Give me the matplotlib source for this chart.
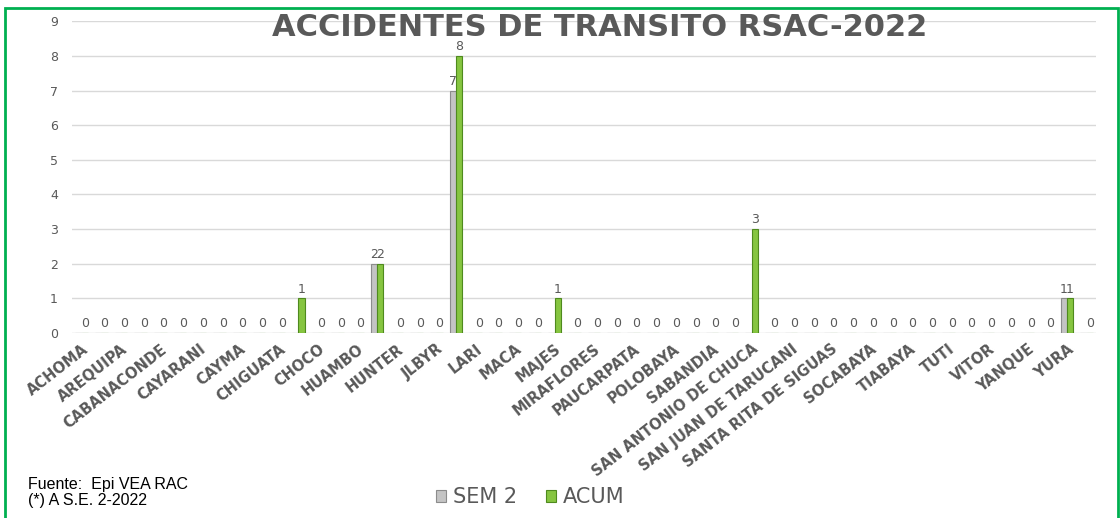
"""Accidentes de transito RSAC-2022 bar chart"""

import matplotlib.pyplot as plt
import numpy as np
from matplotlib.patches import Rectangle

# districts (Excel shows only every other label)
districts = [
    'ACHOMA', 'ALTO SELVA ALEGRE', 'AREQUIPA', 'AYO', 'CABANACONDE', 'CALLALLI',
    'CAYARANI', 'CAYLLOMA', 'CAYMA', 'CERRO COLORADO', 'CHIGUATA', 'CHIVAY',
    'CHOCO', 'COPORAQUE', 'HUAMBO', 'HUANCA', 'HUNTER', 'ICHUPAMPA',
    'JLBYR', 'LA JOYA', 'LARI', 'LLUTA', 'MACA', 'MADRIGAL',
    'MAJES', 'MARIANO MELGAR', 'MIRAFLORES', 'MOLLEBAYA', 'PAUCARPATA', 'POCSI',
    'POLOBAYA', 'QUEQUEÑA', 'SABANDIA', 'SACHACA', 'SAN ANTONIO DE CHUCA', 'SAN JUAN DE SIGUAS',
    'SAN JUAN DE TARUCANI', 'SANTA ISABEL DE SIGUAS', 'SANTA RITA DE SIGUAS', 'SIBAYO', 'SOCABAYA', 'TAPAY',
    'TIABAYA', 'TISCO', 'TUTI', 'UCHUMAYO', 'VITOR', 'YANAHUARA',
    'YANQUE', 'YARABAMBA', 'YURA', 'ZAMACOLA',
]

sem2 = [0] * 52
acum = [0] * 52
# values
sem2[15] = 2
sem2[19] = 7
sem2[50] = 1
acum[11] = 1
acum[15] = 2
acum[19] = 8
acum[24] = 1
acum[34] = 3
acum[50] = 1

text_col = '#595959'

fig = plt.figure(figsize=(11.2, 5.18), dpi=100)
ax = fig.add_axes([0.064, 0.357, 0.915, 0.602])

x = np.arange(len(districts))
width = 0.32

bars1 = ax.bar(x - width / 2, sem2, width, color='#c4c4c4', edgecolor='#8c8c8c',
               linewidth=0.8, label='SEM 2', zorder=3)
bars2 = ax.bar(x + width / 2, acum, width, color='#86c540', edgecolor='#4f8a1e',
               linewidth=0.8, label='ACUM', zorder=3)

# SEM 2 labels only where non zero, ACUM labels everywhere
ax.bar_label(bars1, labels=[str(v) if v else '' for v in sem2], padding=2,
             fontsize=9, color=text_col)
ax.bar_label(bars2, labels=[str(v) for v in acum], padding=2,
             fontsize=9, color=text_col)

ax.set_xlim(-0.5, len(districts) - 0.5)
ax.set_ylim(0, 9)
ax.set_yticks(range(0, 10))
ax.yaxis.grid(True, color='#d9d9d9', linewidth=1)
ax.set_axisbelow(True)
for s in ax.spines.values():
    s.set_visible(False)

ax.set_xticks(x[::2])
ax.set_xticklabels(districts[::2], rotation=38, ha='right', rotation_mode='anchor',
                   fontsize=10.5, fontweight='bold', color=text_col)
ax.tick_params(axis='both', length=0)
ax.tick_params(axis='y', labelsize=9, labelcolor=text_col, pad=10)
ax.tick_params(axis='x', pad=6)

fig.text(600 / 1120, 1 - 28 / 518, 'ACCIDENTES DE TRANSITO RSAC-2022', ha='center',
         va='center', fontsize=22, fontweight='bold', color=text_col)

fig.legend(loc='center', bbox_to_anchor=(530 / 1120, 1 - 497 / 518), ncol=2,
           frameon=False, fontsize=15, handlelength=0.5, handleheight=0.5,
           handletextpad=0.3, columnspacing=1.4, labelcolor=text_col)

fig.text(28 / 1120, 1 - 485 / 518, 'Fuente:  Epi VEA RAC', fontsize=11.5,
         family='Liberation Sans', va='center')
fig.text(28 / 1120, 1 - 500 / 518, '(*) A S.E. 2-2022', fontsize=11.5,
         family='Liberation Sans', va='center')

# green frame
fig.patches.append(Rectangle((5 / 1120, -0.05), 1113 / 1120, 1.05 - 8 / 518,
                             transform=fig.transFigure, fill=False,
                             edgecolor='#00b050', linewidth=2))

fig.savefig('out.png', dpi=100)
